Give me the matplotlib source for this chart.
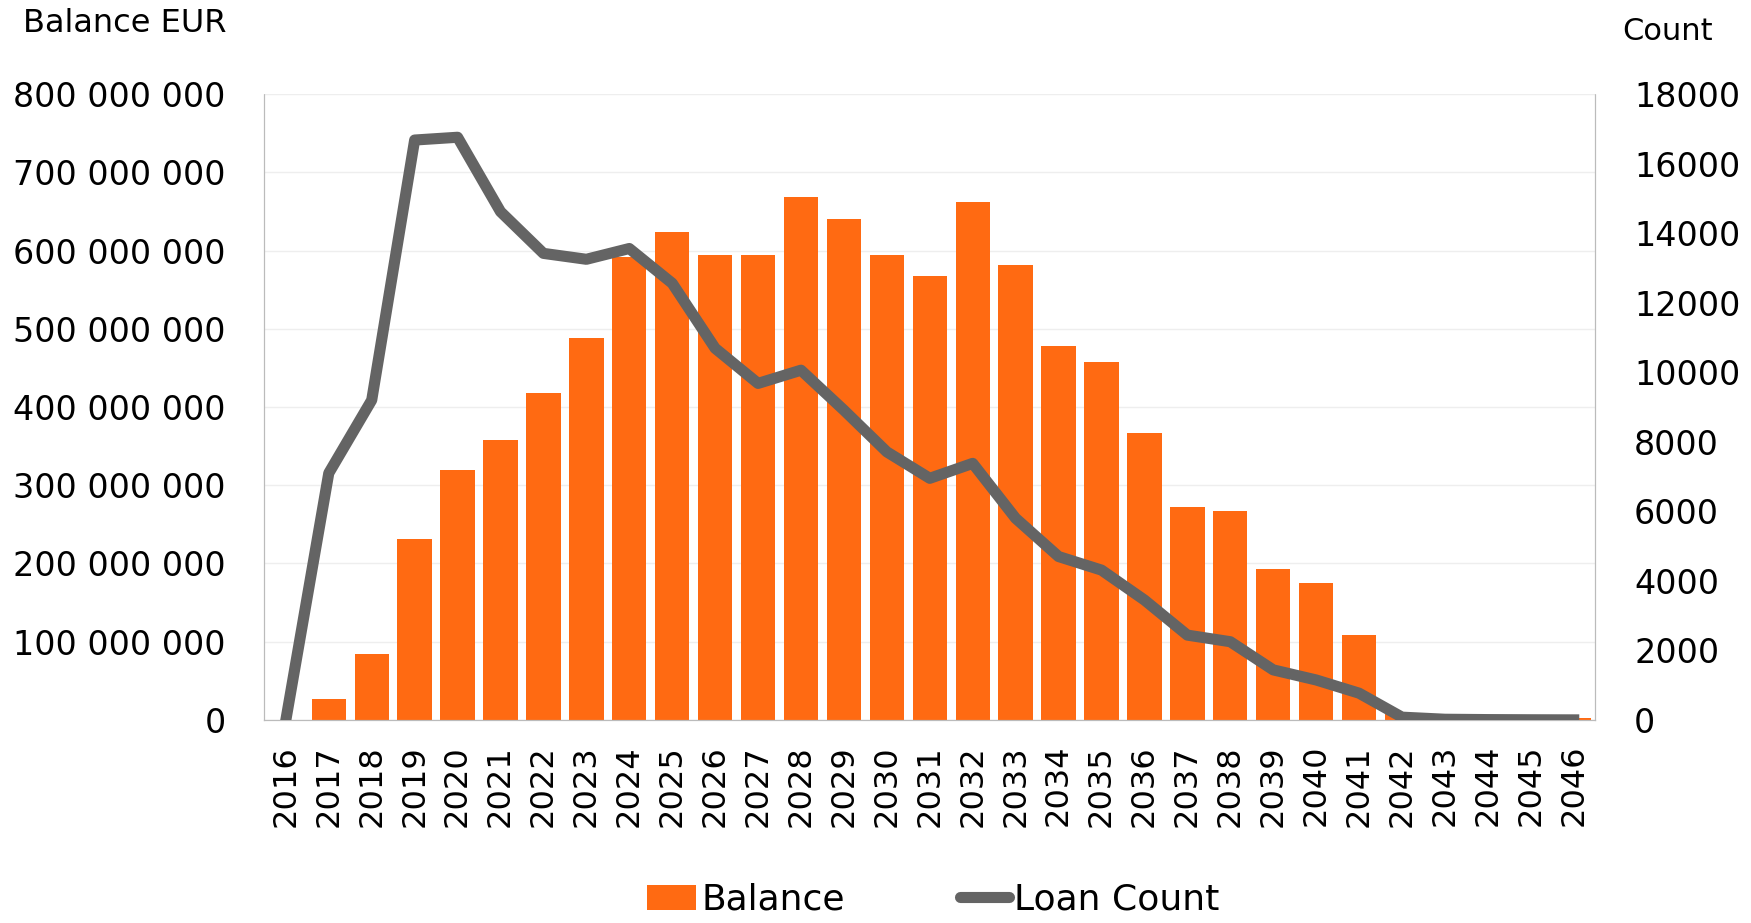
import matplotlib
matplotlib.use("Agg")
import matplotlib.pyplot as plt
from matplotlib.ticker import FuncFormatter, MultipleLocator
from matplotlib.patches import Patch
from matplotlib.lines import Line2D
import matplotlib.font_manager as fm

years = [str(y) for y in range(2016, 2047)]
balance_m = [0, 27, 84, 231, 319, 358, 418, 488, 592, 624, 594, 595, 669, 640, 595,
             568, 662, 581, 478, 458, 367, 272, 267, 193, 175, 108, 8, 0.5, 0.3, 0.2, 3]
balance = [v * 1e6 for v in balance_m]
loan_count = [0, 7100, 9200, 16680, 16760, 14620, 13420, 13250, 13560, 12560, 10690,
              9680, 10060, 8910, 7710, 6950, 7380, 5800, 4700, 4310, 3450, 2440, 2250,
              1440, 1150, 770, 80, 20, 10, 5, 2]

names = {f.name for f in fm.fontManager.ttflist}
fam = 'Liberation Sans Narrow' if 'Liberation Sans Narrow' in names else 'DejaVu Sans'
plt.rcParams['font.family'] = [fam, 'DejaVu Sans']

bar_color = '#FF6A12'
line_color = '#646464'

fig = plt.figure(figsize=(17.51, 9.23), dpi=100)
ax = fig.add_axes([0.151, 0.220, 0.760, 0.678])
ax2 = ax.twinx()

x = list(range(len(years)))
ax.bar(x, balance, width=0.8, color=bar_color, zorder=2)
ax2.plot(x, loan_count, color=line_color, linewidth=8, solid_joinstyle='round', zorder=3)

ax.set_xlim(-0.5, len(years) - 0.5)
ax.set_ylim(0, 800e6)
ax2.set_ylim(0, 18000)
ax.yaxis.set_major_locator(MultipleLocator(100e6))
ax2.yaxis.set_major_locator(MultipleLocator(2000))

ax.yaxis.set_major_formatter(FuncFormatter(lambda v, p: f"{int(round(v)):,}".replace(",", " ")))
ax2.yaxis.set_major_formatter(FuncFormatter(lambda v, p: f"{int(round(v))}"))

ax.set_xticks(x)
ax.set_xticklabels(years, rotation=90, fontsize=23, family='DejaVu Sans')
ax.tick_params(axis='x', length=0, pad=18)
ax.tick_params(axis='y', length=0, pad=28, labelsize=24)
ax2.tick_params(axis='y', length=0, pad=28, labelsize=24)

ax.grid(axis='y', color='#EEEEEE', linewidth=1, zorder=0)
ax.set_axisbelow(True)
for a in (ax, ax2):
    a.spines['top'].set_visible(False)
    a.spines['left'].set_color('#BBBBBB')
    a.spines['left'].set_linestyle((0, (1, 1)))
    a.spines['left'].set_linewidth(0.8)
    a.spines['right'].set_color('#BBBBBB')
    a.spines['right'].set_linestyle((0, (1, 1)))
    a.spines['right'].set_linewidth(0.8)
    a.spines['bottom'].set_color('#BBBBBB')
    a.spines['bottom'].set_linewidth(0.8)

fig.text(0.013, 0.974, "Balance EUR", fontsize=23, va='center', ha='left')
fig.text(0.978, 0.966, "Count", fontsize=22, va='center', ha='right')

handles = [Patch(facecolor=bar_color, edgecolor='none'),
           Line2D([0], [0], color=line_color, linewidth=8, solid_capstyle='round')]
fig.legend(handles, ["Balance", "Loan Count"], loc='center', bbox_to_anchor=(0.533, 0.025),
           ncol=2, frameon=False, handlelength=1.35, handletextpad=0.15,
           columnspacing=3.2, prop={'size': 26})

fig.savefig("out.png", dpi=100)
